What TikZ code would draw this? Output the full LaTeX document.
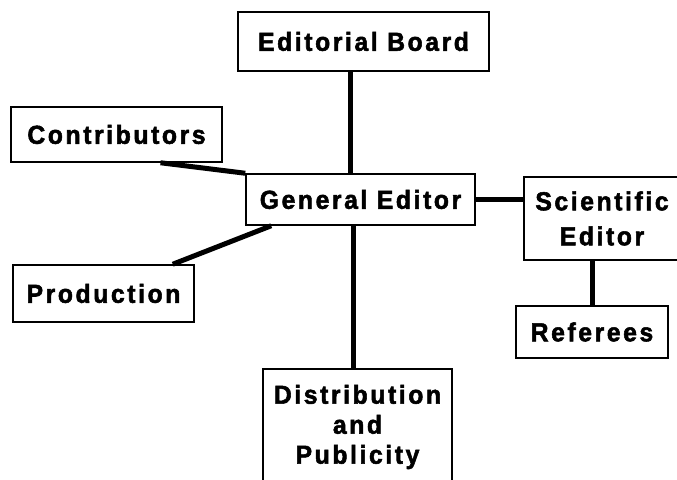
\documentclass[tikz,border=0pt]{standalone}
\usepackage{fontspec}
\newfontfamily\chartfont[FakeStretch=0.95,LetterSpace=10,FakeBold=2]{Liberation Sans}
\usetikzlibrary{positioning, calc}

\begin{document}
\begin{tikzpicture}[x=1pt, y=1pt,
	box/.style={draw, line width=1.5pt, fill=white, inner sep=0pt, align=center,
		font={\chartfont\bfseries\fontsize{26}{30}\selectfont}},
	link/.style={line width=5pt}]
	\useasboundingbox (0,0) rectangle (677,479);
	\clip (0,0) rectangle (677,479);
	% units
	\node[box, minimum width=251, minimum height=59] (board) at (363.5,437.5) {Editorial Board};
	\node[box, minimum width=229, minimum height=51] (general) at (360.5,279.5) {General Editor};
	\node[box, minimum width=156, minimum height=83] (sci) at (602,260.5) {Scientific\\[5pt]Editor};
	\node[box, minimum width=152, minimum height=52] (referees) at (592,147) {Referees};
	\node[box, minimum width=211, minimum height=55] (contrib) at (116.5,344.5) {Contributors};
	\node[box, minimum width=181, minimum height=57] (production) at (103.5,185.5) {Production};
	\node[box, minimum width=189, minimum height=116] (distrib) at (357.5,52) {Distribution\\and\\Publicity};
	% links
	\draw[link] ([xshift=-13.5pt]board.south) -- ([xshift=-13.5pt]board.south |- general.north);
	\draw[link] (general.east) -- (general.east -| sci.west);
	\draw[link] (referees.north |- sci.south) -- (referees.north);
	\draw[link] ([xshift=44pt]contrib.south) -- (general.north west);
	\draw[link] ([xshift=-22pt]production.north east) -- ([xshift=26pt]general.south west);
	\draw[link] ([xshift=-4.5pt]distrib.north |- general.south) -- ([xshift=-4.5pt]distrib.north);
\end{tikzpicture}
\end{document}
